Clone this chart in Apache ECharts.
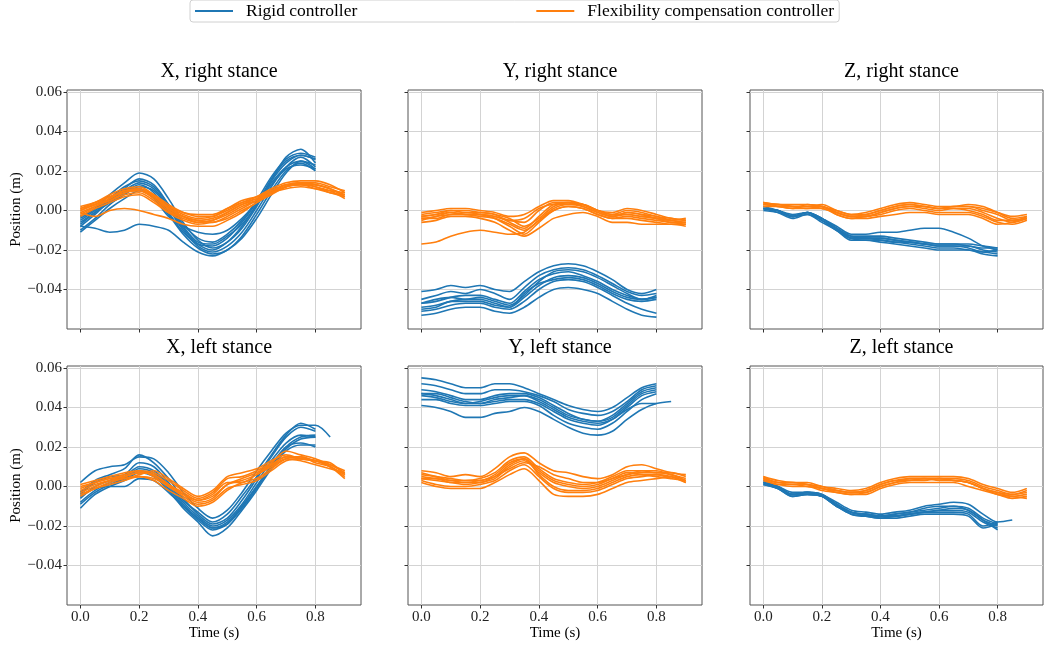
<!DOCTYPE html>
<html>
<head>
<meta charset="utf-8">
<script src="https://cdn.jsdelivr.net/npm/echarts@6/dist/echarts.min.js"></script>
<style>
  html, body { margin: 0; background: #fff; }
  #chart { width: 1046px; height: 645px; }
</style>
</head>
<body>
<div id="chart"></div>
<script>
// sample times (s), shared by every trial
const TIME = [0, 0.05, 0.1, 0.15, 0.2, 0.25, 0.3, 0.35, 0.4, 0.45, 0.5, 0.55, 0.6, 0.65, 0.7, 0.75, 0.8, 0.85, 0.9];
const X_TICKS = [0, 0.2, 0.4, 0.6, 0.8];
const Y_TICKS = [-0.04, -0.02, 0, 0.02, 0.04, 0.06];

const TITLES = ['X, right stance', 'Y, right stance', 'Z, right stance',
                'X, left stance', 'Y, left stance', 'Z, left stance'];
const LEGEND = ['Rigid controller', 'Flexibility compensation controller'];

// X, right stance
const X_RIGHT_RIGID = [
  [-0.004, 0.001, 0.008, 0.014, 0.019, 0.016, 0.006, -0.006, -0.015, -0.019, -0.016, -0.009, 0.002, 0.015, 0.027, 0.031, 0.024],
  [-0.008, -0.002, 0.005, 0.010, 0.014, 0.011, 0.002, -0.009, -0.017, -0.020, -0.016, -0.008, 0.003, 0.016, 0.025, 0.028, 0.026],
  [-0.010, -0.004, 0.003, 0.008, 0.012, 0.010, 0.001, -0.010, -0.018, -0.021, -0.018, -0.011, 0.000, 0.012, 0.022, 0.027, 0.022],
  [-0.006, -0.001, 0.004, 0.009, 0.013, 0.009, -0.001, -0.011, -0.017, -0.018, -0.014, -0.006, 0.004, 0.014, 0.022, 0.025, 0.021],
  [-0.011, -0.005, 0.001, 0.006, 0.010, 0.007, -0.002, -0.012, -0.019, -0.022, -0.020, -0.013, -0.002, 0.010, 0.020, 0.024, 0.020],
  [-0.003, 0.001, 0.006, 0.010, 0.011, 0.006, -0.003, -0.008, -0.011, -0.012, -0.010, -0.004, 0.004, 0.013, 0.021, 0.023, 0.021],
  [-0.008, -0.009, -0.011, -0.010, -0.007, -0.008, -0.010, -0.016, -0.021, -0.023, -0.020, -0.014, -0.004, 0.008, 0.019, 0.025, 0.023],
  [-0.005, 0.000, 0.005, 0.011, 0.016, 0.013, 0.003, -0.008, -0.016, -0.017, -0.013, -0.007, 0.003, 0.015, 0.024, 0.028, 0.026],
  [-0.007, -0.001, 0.006, 0.012, 0.015, 0.012, 0.003, -0.007, -0.014, -0.016, -0.012, -0.005, 0.005, 0.017, 0.026, 0.029, 0.027]
];
const X_RIGHT_FLEX = [
  [0.001, 0.004, 0.008, 0.011, 0.012, 0.008, 0.002, -0.002, -0.004, -0.003, 0.000, 0.004, 0.007, 0.011, 0.014, 0.015, 0.015, 0.013, 0.009],
  [-0.002, 0.002, 0.006, 0.010, 0.010, 0.006, 0.000, -0.004, -0.006, -0.005, -0.002, 0.002, 0.005, 0.009, 0.012, 0.014, 0.013, 0.011, 0.007],
  [0.000, 0.003, 0.005, 0.008, 0.009, 0.005, -0.001, -0.005, -0.007, -0.006, -0.004, 0.000, 0.004, 0.009, 0.013, 0.014, 0.012, 0.010, 0.006],
  [-0.003, 0.001, 0.004, 0.007, 0.008, 0.004, -0.001, -0.003, -0.005, -0.004, -0.001, 0.003, 0.006, 0.010, 0.013, 0.013, 0.012, 0.009, 0.008],
  [0.002, 0.004, 0.007, 0.010, 0.011, 0.007, 0.002, -0.001, -0.003, -0.003, 0.001, 0.005, 0.007, 0.010, 0.013, 0.014, 0.014, 0.012, 0.010],
  [-0.001, -0.003, 0.000, 0.001, 0.000, -0.002, -0.004, -0.007, -0.008, -0.008, -0.005, -0.001, 0.004, 0.008, 0.012, 0.013, 0.011, 0.009, 0.007],
  [0.000, 0.003, 0.007, 0.009, 0.011, 0.008, 0.003, -0.001, -0.002, -0.002, 0.001, 0.004, 0.006, 0.009, 0.011, 0.012, 0.011, 0.010, 0.009],
  [-0.001, 0.002, 0.005, 0.009, 0.010, 0.007, 0.001, -0.003, -0.005, -0.006, -0.003, 0.001, 0.005, 0.009, 0.012, 0.014, 0.013, 0.011],
  [0.001, 0.003, 0.006, 0.010, 0.011, 0.007, 0.001, -0.003, -0.006, -0.005, -0.001, 0.003, 0.005, 0.009, 0.012, 0.013, 0.013, 0.011, 0.008]
];

// Y, right stance
const Y_RIGHT_RIGID = [
  [-0.041, -0.040, -0.038, -0.039, -0.038, -0.040, -0.041, -0.036, -0.031, -0.028, -0.027, -0.028, -0.031, -0.035, -0.040, -0.042, -0.040],
  [-0.045, -0.043, -0.041, -0.042, -0.040, -0.042, -0.045, -0.039, -0.033, -0.030, -0.029, -0.030, -0.033, -0.037, -0.041, -0.043, -0.042],
  [-0.047, -0.046, -0.044, -0.043, -0.043, -0.045, -0.047, -0.041, -0.035, -0.032, -0.031, -0.033, -0.036, -0.040, -0.043, -0.045, -0.043],
  [-0.049, -0.048, -0.046, -0.045, -0.045, -0.047, -0.049, -0.044, -0.038, -0.034, -0.033, -0.034, -0.037, -0.041, -0.044, -0.045, -0.044],
  [-0.051, -0.050, -0.048, -0.047, -0.047, -0.049, -0.050, -0.046, -0.040, -0.036, -0.035, -0.036, -0.039, -0.043, -0.047, -0.050, -0.052],
  [-0.053, -0.052, -0.050, -0.049, -0.049, -0.051, -0.052, -0.049, -0.044, -0.040, -0.039, -0.040, -0.042, -0.046, -0.050, -0.053, -0.054],
  [-0.047, -0.045, -0.044, -0.045, -0.044, -0.046, -0.048, -0.043, -0.036, -0.031, -0.030, -0.031, -0.034, -0.038, -0.042, -0.045, -0.044],
  [-0.050, -0.049, -0.046, -0.046, -0.046, -0.048, -0.049, -0.042, -0.037, -0.035, -0.034, -0.035, -0.038, -0.042, -0.045, -0.046, -0.045]
];
const Y_RIGHT_FLEX = [
  [-0.001, 0.000, 0.001, 0.001, 0.000, -0.001, -0.003, -0.002, 0.002, 0.005, 0.005, 0.003, 0.000, -0.001, 0.001, 0.000, -0.002, -0.004, -0.005],
  [-0.003, -0.002, -0.001, -0.002, -0.002, -0.003, -0.005, -0.006, 0.000, 0.004, 0.004, 0.002, -0.001, -0.003, -0.001, -0.002, -0.003, -0.005, -0.006],
  [-0.005, -0.003, -0.002, -0.001, -0.002, -0.004, -0.008, -0.012, -0.006, 0.000, 0.002, 0.001, -0.002, -0.004, -0.003, -0.004, -0.005, -0.006, -0.007],
  [-0.006, -0.005, -0.003, -0.003, -0.004, -0.006, -0.010, -0.013, -0.009, -0.004, -0.002, -0.001, -0.003, -0.006, -0.006, -0.007, -0.007, -0.007, -0.008],
  [-0.002, -0.001, 0.000, 0.000, -0.001, -0.002, -0.004, -0.008, -0.004, 0.002, 0.004, 0.003, 0.000, -0.002, 0.000, -0.001, -0.003, -0.004, -0.005],
  [-0.017, -0.016, -0.013, -0.011, -0.010, -0.011, -0.012, -0.011, -0.005, 0.000, 0.002, 0.001, -0.002, -0.004, -0.004, -0.005, -0.006, -0.007, -0.007],
  [-0.004, -0.003, -0.001, -0.002, -0.003, -0.004, -0.007, -0.010, -0.005, 0.001, 0.003, 0.003, 0.000, -0.002, -0.002, -0.003, -0.004, -0.006, -0.006],
  [-0.004, -0.004, -0.002, -0.002, -0.002, -0.003, -0.005, -0.004, 0.001, 0.003, 0.003, 0.002, -0.001, -0.003, -0.002, -0.003, -0.004, -0.005],
  [-0.003, -0.002, 0.000, -0.001, -0.001, -0.002, -0.006, -0.009, -0.003, 0.003, 0.004, 0.003, 0.000, -0.003, -0.001, -0.002, -0.004, -0.005, -0.004]
];

// Z, right stance
const Z_RIGHT_RIGID = [
  [0.001, 0.000, -0.003, -0.001, -0.004, -0.008, -0.012, -0.012, -0.011, -0.011, -0.010, -0.009, -0.009, -0.011, -0.014, -0.018, -0.020],
  [0.001, 0.000, -0.002, -0.001, -0.004, -0.009, -0.013, -0.013, -0.013, -0.014, -0.015, -0.016, -0.017, -0.017, -0.017, -0.018, -0.019],
  [0.000, -0.001, -0.003, -0.001, -0.005, -0.009, -0.014, -0.014, -0.014, -0.015, -0.016, -0.017, -0.018, -0.018, -0.018, -0.020, -0.021],
  [0.002, 0.000, -0.003, -0.002, -0.005, -0.010, -0.014, -0.015, -0.015, -0.016, -0.017, -0.018, -0.019, -0.019, -0.020, -0.021, -0.022],
  [0.001, -0.001, -0.004, -0.002, -0.006, -0.010, -0.015, -0.015, -0.016, -0.017, -0.018, -0.019, -0.020, -0.020, -0.020, -0.022, -0.023],
  [0.001, 0.000, -0.003, -0.001, -0.004, -0.009, -0.013, -0.014, -0.014, -0.015, -0.016, -0.017, -0.017, -0.017, -0.018, -0.019, -0.019],
  [0.001, 0.000, -0.003, -0.001, -0.005, -0.010, -0.014, -0.014, -0.015, -0.016, -0.016, -0.017, -0.018, -0.018, -0.019, -0.021, -0.020]
];
const Z_RIGHT_FLEX = [
  [0.004, 0.003, 0.002, 0.002, 0.003, 0.000, -0.002, -0.001, 0.001, 0.003, 0.004, 0.003, 0.002, 0.002, 0.003, 0.002, -0.001, -0.004, -0.003],
  [0.003, 0.003, 0.002, 0.001, 0.002, -0.001, -0.003, -0.002, 0.000, 0.002, 0.003, 0.002, 0.001, 0.002, 0.002, 0.000, -0.002, -0.005, -0.004],
  [0.004, 0.002, 0.001, 0.003, 0.002, -0.001, -0.003, -0.003, -0.001, 0.001, 0.002, 0.001, 0.000, 0.001, 0.001, -0.001, -0.004, -0.006, -0.004],
  [0.003, 0.003, 0.002, 0.002, 0.002, -0.002, -0.004, -0.003, -0.002, 0.000, 0.001, 0.000, -0.001, -0.001, -0.001, -0.003, -0.006, -0.007, -0.005],
  [0.002, 0.002, 0.001, 0.001, 0.001, -0.002, -0.004, -0.004, -0.003, -0.002, -0.001, -0.001, -0.002, -0.002, -0.002, -0.004, -0.007, -0.006, -0.003],
  [0.004, 0.003, 0.003, 0.003, 0.002, 0.000, -0.002, -0.002, 0.000, 0.002, 0.003, 0.002, 0.001, 0.002, 0.002, 0.001, -0.001, -0.003, -0.002],
  [0.003, 0.002, 0.002, 0.002, 0.001, -0.001, -0.003, -0.003, -0.001, 0.001, 0.002, 0.002, 0.001, 0.001, 0.000, -0.002, -0.005, -0.005, -0.004]
];

// X, left stance
const X_LEFT_RIGID = [
  [0.002, 0.008, 0.010, 0.011, 0.015, 0.014, 0.007, -0.003, -0.011, -0.016, -0.012, -0.003, 0.008, 0.018, 0.027, 0.031, 0.031, 0.025],
  [-0.003, 0.003, 0.006, 0.009, 0.016, 0.012, 0.004, -0.006, -0.014, -0.019, -0.016, -0.007, 0.004, 0.015, 0.025, 0.030, 0.028],
  [-0.006, 0.000, 0.003, 0.005, 0.010, 0.008, 0.001, -0.008, -0.015, -0.020, -0.017, -0.009, 0.002, 0.013, 0.022, 0.026, 0.025],
  [-0.011, -0.004, 0.000, 0.003, 0.007, 0.005, -0.002, -0.011, -0.018, -0.025, -0.021, -0.012, -0.002, 0.009, 0.018, 0.021, 0.021],
  [-0.008, -0.002, 0.002, 0.004, 0.008, 0.006, -0.001, -0.010, -0.017, -0.022, -0.019, -0.010, 0.000, 0.011, 0.020, 0.022, 0.020],
  [-0.005, -0.001, 0.000, 0.000, 0.004, 0.003, -0.003, -0.010, -0.016, -0.021, -0.018, -0.010, 0.000, 0.010, 0.019, 0.024, 0.025],
  [-0.004, 0.002, 0.005, 0.006, 0.012, 0.010, 0.002, -0.007, -0.013, -0.018, -0.014, -0.005, 0.005, 0.016, 0.026, 0.032, 0.029],
  [-0.009, -0.003, 0.001, 0.004, 0.009, 0.007, 0.000, -0.009, -0.016, -0.021, -0.019, -0.011, -0.001, 0.010, 0.020, 0.025, 0.026]
];
const X_LEFT_FLEX = [
  [0.001, 0.003, 0.005, 0.007, 0.008, 0.007, 0.003, -0.002, -0.006, -0.003, 0.004, 0.005, 0.008, 0.012, 0.018, 0.016, 0.014, 0.011, 0.008],
  [-0.003, 0.000, 0.003, 0.005, 0.007, 0.006, 0.001, -0.004, -0.008, -0.006, 0.001, 0.003, 0.006, 0.011, 0.015, 0.014, 0.013, 0.010, 0.006],
  [-0.005, -0.001, 0.002, 0.004, 0.005, 0.003, -0.002, -0.006, -0.010, -0.008, -0.002, 0.002, 0.004, 0.009, 0.014, 0.015, 0.012, 0.010, 0.005],
  [0.000, 0.002, 0.004, 0.006, 0.008, 0.005, 0.000, -0.004, -0.007, -0.004, 0.002, 0.002, 0.006, 0.010, 0.014, 0.013, 0.011, 0.009, 0.007],
  [-0.002, 0.001, 0.003, 0.004, 0.006, 0.008, 0.004, -0.001, -0.005, -0.002, 0.005, 0.007, 0.009, 0.013, 0.016, 0.014, 0.013, 0.010, 0.004],
  [-0.004, -0.001, 0.001, 0.003, 0.005, 0.004, 0.000, -0.005, -0.009, -0.007, -0.001, 0.001, 0.003, 0.008, 0.013, 0.014, 0.013, 0.011, 0.007],
  [-0.001, 0.002, 0.004, 0.005, 0.007, 0.006, 0.001, -0.003, -0.007, -0.005, 0.001, 0.004, 0.007, 0.011, 0.015, 0.015, 0.013, 0.012, 0.006]
];

// Y, left stance
const Y_LEFT_RIGID = [
  [0.055, 0.054, 0.052, 0.050, 0.050, 0.052, 0.052, 0.050, 0.047, 0.044, 0.041, 0.039, 0.038, 0.040, 0.045, 0.050, 0.052],
  [0.052, 0.051, 0.049, 0.047, 0.047, 0.049, 0.049, 0.048, 0.046, 0.043, 0.039, 0.037, 0.036, 0.038, 0.043, 0.049, 0.051],
  [0.049, 0.048, 0.046, 0.044, 0.044, 0.046, 0.047, 0.047, 0.045, 0.041, 0.037, 0.034, 0.033, 0.036, 0.042, 0.048, 0.050],
  [0.047, 0.047, 0.045, 0.043, 0.042, 0.044, 0.045, 0.046, 0.044, 0.040, 0.036, 0.034, 0.033, 0.035, 0.041, 0.047, 0.049],
  [0.046, 0.045, 0.043, 0.042, 0.042, 0.043, 0.044, 0.044, 0.042, 0.038, 0.034, 0.032, 0.031, 0.034, 0.040, 0.046, 0.048],
  [0.044, 0.044, 0.042, 0.041, 0.041, 0.042, 0.043, 0.043, 0.041, 0.036, 0.032, 0.030, 0.029, 0.032, 0.038, 0.044, 0.047],
  [0.041, 0.040, 0.038, 0.035, 0.035, 0.037, 0.038, 0.040, 0.038, 0.034, 0.030, 0.027, 0.026, 0.028, 0.034, 0.039, 0.042, 0.043],
  [0.047, 0.046, 0.044, 0.042, 0.043, 0.045, 0.046, 0.046, 0.043, 0.039, 0.035, 0.033, 0.032, 0.034, 0.039, 0.042, 0.042]
];
const Y_LEFT_FLEX = [
  [0.008, 0.007, 0.005, 0.006, 0.005, 0.009, 0.015, 0.017, 0.012, 0.008, 0.007, 0.005, 0.004, 0.006, 0.010, 0.011, 0.009, 0.007, 0.006],
  [0.006, 0.005, 0.004, 0.003, 0.004, 0.007, 0.013, 0.015, 0.009, 0.004, 0.002, 0.001, 0.002, 0.005, 0.008, 0.008, 0.007, 0.007, 0.005],
  [0.004, 0.003, 0.002, 0.001, 0.002, 0.004, 0.010, 0.013, 0.007, 0.002, 0.000, -0.001, 0.000, 0.003, 0.006, 0.007, 0.007, 0.006, 0.003],
  [0.003, 0.001, 0.000, 0.000, 0.001, 0.003, 0.008, 0.011, 0.005, -0.001, -0.003, -0.003, -0.002, 0.001, 0.004, 0.005, 0.006, 0.005, 0.002],
  [0.002, 0.000, -0.001, -0.001, -0.001, 0.002, 0.006, 0.009, 0.003, -0.004, -0.005, -0.005, -0.004, -0.001, 0.002, 0.003, 0.004, 0.005, 0.002],
  [0.005, 0.004, 0.003, 0.002, 0.002, 0.005, 0.009, 0.012, 0.010, 0.006, 0.004, 0.002, 0.002, 0.004, 0.007, 0.006, 0.005, 0.004, 0.003],
  [0.007, 0.005, 0.003, 0.003, 0.003, 0.006, 0.012, 0.014, 0.006, 0.000, -0.002, -0.002, -0.001, 0.002, 0.005, 0.006, 0.006, 0.004],
  [0.004, 0.004, 0.002, 0.002, 0.003, 0.005, 0.011, 0.014, 0.008, 0.003, 0.001, 0.000, 0.001, 0.004, 0.006, 0.008, 0.008, 0.006, 0.004]
];

// Z, left stance
const Z_LEFT_RIGID = [
  [0.002, 0.000, -0.003, -0.003, -0.004, -0.008, -0.012, -0.013, -0.014, -0.013, -0.012, -0.010, -0.009, -0.008, -0.009, -0.014, -0.018, -0.017],
  [0.002, -0.001, -0.004, -0.003, -0.005, -0.009, -0.013, -0.014, -0.015, -0.014, -0.013, -0.012, -0.011, -0.010, -0.011, -0.016, -0.019],
  [0.001, -0.001, -0.005, -0.004, -0.005, -0.010, -0.014, -0.015, -0.015, -0.015, -0.014, -0.013, -0.012, -0.012, -0.013, -0.018, -0.021],
  [0.003, 0.000, -0.004, -0.003, -0.004, -0.009, -0.013, -0.014, -0.015, -0.015, -0.014, -0.013, -0.013, -0.013, -0.014, -0.020, -0.018],
  [0.002, -0.001, -0.005, -0.004, -0.005, -0.010, -0.014, -0.015, -0.016, -0.016, -0.015, -0.014, -0.014, -0.014, -0.015, -0.021, -0.019],
  [0.002, 0.000, -0.004, -0.003, -0.004, -0.009, -0.013, -0.014, -0.015, -0.014, -0.013, -0.011, -0.010, -0.010, -0.012, -0.017, -0.020],
  [0.001, -0.001, -0.004, -0.004, -0.005, -0.010, -0.013, -0.015, -0.016, -0.015, -0.014, -0.013, -0.012, -0.011, -0.012, -0.017, -0.022]
];
const Z_LEFT_FLEX = [
  [0.005, 0.003, 0.002, 0.002, 0.000, -0.001, -0.002, -0.001, 0.002, 0.004, 0.005, 0.005, 0.005, 0.005, 0.004, 0.001, -0.001, -0.003, -0.001],
  [0.004, 0.002, 0.002, 0.001, -0.001, -0.002, -0.003, -0.002, 0.001, 0.003, 0.004, 0.004, 0.004, 0.004, 0.003, 0.000, -0.002, -0.004, -0.002],
  [0.004, 0.001, 0.001, 0.000, -0.001, -0.003, -0.004, -0.003, 0.000, 0.002, 0.003, 0.004, 0.004, 0.003, 0.002, -0.001, -0.004, -0.005, -0.006],
  [0.003, 0.001, 0.000, 0.000, -0.002, -0.003, -0.004, -0.004, -0.001, 0.001, 0.002, 0.002, 0.002, 0.002, 0.000, -0.002, -0.004, -0.006, -0.005],
  [0.005, 0.002, 0.002, 0.001, 0.000, -0.002, -0.003, -0.002, 0.001, 0.003, 0.003, 0.003, 0.004, 0.003, 0.002, -0.001, -0.003, -0.004, -0.003],
  [0.004, 0.002, 0.001, 0.001, -0.001, -0.002, -0.003, -0.003, 0.000, 0.002, 0.004, 0.004, 0.003, 0.003, 0.002, -0.001, -0.003, -0.005, -0.004]
];

const PANELS = [
  [X_RIGHT_RIGID, X_RIGHT_FLEX], [Y_RIGHT_RIGID, Y_RIGHT_FLEX], [Z_RIGHT_RIGID, Z_RIGHT_FLEX],
  [X_LEFT_RIGID, X_LEFT_FLEX], [Y_LEFT_RIGID, Y_LEFT_FLEX], [Z_LEFT_RIGID, Z_LEFT_FLEX]
];

const BLUE = '#1f77b4';
const ORANGE = '#ff7f0e';
const FONT = 'Liberation Serif';

const colLeft = [67, 408, 750];
const colWidth = [294, 294, 293];
const rowTop = [90, 366];

const chart = echarts.init(document.getElementById('chart'));

const grids = [], xAxes = [], yAxes = [], titles = [], series = [];

for (let p = 0; p < 6; p++) {
  const row = Math.floor(p / 3), col = p % 3;
  grids.push({
    left: colLeft[col], top: rowTop[row], width: colWidth[col], height: 239,
    show: true, borderColor: '#555', borderWidth: 1
  });
  titles.push({
    text: TITLES[p], left: colLeft[col] + colWidth[col] / 2, top: rowTop[row] - 33,
    textAlign: 'center',
    textStyle: { fontFamily: FONT, fontSize: 20, fontWeight: 'normal', color: '#000' }
  });
  xAxes.push({
    type: 'value', gridIndex: p, min: -0.0455, max: 0.955, splitNumber: 5,
    name: row === 1 ? 'Time (s)' : '', nameLocation: 'middle', nameGap: 16,
    nameTextStyle: { fontFamily: FONT, fontSize: 15, color: '#000' },
    axisLine: { show: false, onZero: false },
    axisTick: { show: true, length: 3.5, customValues: X_TICKS, lineStyle: { color: '#333' } },
    axisLabel: {
      show: row === 1, margin: 5, fontFamily: FONT, fontSize: 15, color: '#222',
      customValues: X_TICKS, formatter: v => v.toFixed(1)
    },
    splitLine: { show: true, lineStyle: { color: '#d3d3d3', width: 1 } }
  });
  yAxes.push({
    type: 'value', gridIndex: p, min: -0.06, max: 0.061, interval: 0.02,
    name: col === 0 ? 'Position (m)' : '', nameLocation: 'middle', nameGap: 43,
    nameTextStyle: { fontFamily: FONT, fontSize: 15, color: '#000' },
    axisLine: { show: false, onZero: false },
    axisTick: { show: true, length: 3.5, customValues: Y_TICKS, lineStyle: { color: '#333' } },
    axisLabel: {
      show: col === 0, margin: 5, fontFamily: FONT, fontSize: 15, color: '#222',
      customValues: Y_TICKS,
      formatter: v => {
        const r = Math.round(v * 100) / 100;
        return (r < 0 ? '\u2212' : '') + Math.abs(r).toFixed(2);
      }
    },
    splitLine: { show: true, lineStyle: { color: '#d3d3d3', width: 1 } }
  });

  PANELS[p].forEach((group, g) => {
    group.forEach(line => {
      series.push({
        name: LEGEND[g], type: 'line', xAxisIndex: p, yAxisIndex: p,
        data: line.map((v, i) => [TIME[i], v]),
        showSymbol: false, smooth: 0.3, silent: true,
        color: g === 0 ? BLUE : ORANGE,
        lineStyle: { width: 1.6, color: g === 0 ? BLUE : ORANGE },
        z: 2 + g
      });
    });
  });
}

chart.setOption({
  animation: false,
  backgroundColor: '#fff',
  title: titles,
  legend: {
    data: LEGEND, left: 190, top: 0, padding: [2, 5, 2, 5],
    itemWidth: 38, itemHeight: 2, itemGap: 179, icon: 'rect',
    borderColor: '#d0d0d0', borderWidth: 1, borderRadius: 3,
    textStyle: { fontFamily: FONT, fontSize: 17.5, color: '#000', padding: [0, 0, 0, 8] }
  },
  grid: grids,
  xAxis: xAxes,
  yAxis: yAxes,
  series: series
});
</script>
</body>
</html>
